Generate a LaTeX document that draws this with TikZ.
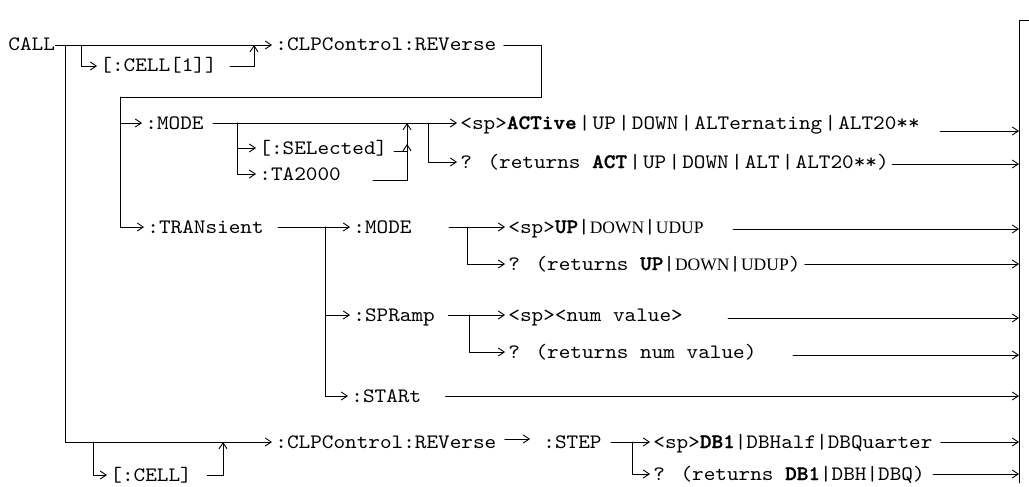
\documentclass[tikz,border=0pt]{standalone}
\usepackage{fontspec}
\setmainfont{Liberation Serif}
\newfontfamily\cmdtt{lmmono10-regular.otf}[FakeStretch=1.08,BoldFont=lmmonolt10-bold.otf,BoldFeatures={FakeBold=1.2}]
\usetikzlibrary{arrows.meta}
\newcommand\cmdfont{\fontsize{20.5}{23}\selectfont\cmdtt}
\newcommand\srf[1]{{\rmfamily\fontsize{17.5}{19}\selectfont #1}}
\newcommand\pp{\kern2.2pt|\kern2.2pt}
\begin{document}
\begin{tikzpicture}[x=1pt,y=-1pt,line cap=round,line join=round,line width=0.9pt,
  >={Straight Barb[length=6pt,width=8pt]},
  lbl/.style={font=\cmdfont,inner xsep=3pt,inner ysep=0pt,text height=12pt,text depth=0pt,anchor=west}]
  \useasboundingbox (0,0) rectangle (1029,487);
  % right-hand collecting bar
  \coordinate (bartop) at (1019,20);
  \coordinate (barbot) at (1019,483);
  \draw (barbot) -- (bartop) -- (1029,20);
  % top row
  \node[lbl,inner xsep=0pt] (call) at (8,45) {CALL};
  \node[lbl] (clpa) at (272,45) {:CLPControl:REVerse};
  \node[lbl] (cella) at (97,66) {[:CELL[1]]};
  \coordinate (ja) at (65,45);
  \coordinate (jb) at (81,45);
  \coordinate (jc) at (254,45);
  \draw[->] (call.east) -- (clpa.west);
  \draw[->] (jb) |- (cella.west);
  \draw[->] ([xshift=10pt]cella.east) -| (jc);
  % return to second level
  \coordinate (je) at (541,97);
  \coordinate (jf) at (120,97);
  \node[lbl] (mode) at (142,123) {:MODE};
  \node[lbl] (tran) at (144,227) {:TRANsient};
  \draw[->] ([xshift=4pt]clpa.east) -| (je) -- (jf) |- (tran.west);
  \draw[->] (jf) |- (mode.west);
  % :MODE branch
  \node[lbl] (act) at (457,123) {<sp>\textbf{ACTive}\pp UP\pp DOWN\pp ALTernating\pp ALT20**};
  \node[lbl] (qact) at (457,162) {? (returns \textbf{ACT}\pp UP\pp DOWN\pp ALT\pp ALT20**)};
  \node[lbl] (sel) at (256,148) {[:SELected]};
  \node[lbl] (ta) at (256,174) {:TA2000};
  \coordinate (jg) at (237,123);
  \coordinate (jh) at (407,123);
  \coordinate (jj) at (428,123);
  \coordinate (selout) at (394,151);
  \coordinate (taout) at (373,180);
  \draw[->] ([xshift=6pt]mode.east) -- (act.west);
  \draw[->] (jg) |- (sel.west);
  \draw[->] (jg) |- (ta.west);
  \draw[->] (selout) -| (jh);
  \draw[->] (taout) -| (407,144);
  \draw[->] (jj) |- (qact.west);
  \coordinate (actout) at (940,131);
  \coordinate (qactout) at (892,164);
  \draw[->] (actout) -- (actout -| bartop);
  \draw[->] (qactout) -- (qactout -| bartop);
  % :TRANsient branch
  \node[lbl] (tmode) at (350,227) {:MODE};
  \node[lbl] (spr) at (350,315) {:SPRamp};
  \node[lbl] (start) at (348,396) {:STARt};
  \coordinate (jk) at (325,227);
  \draw[->] ([xshift=11pt]tran.east) -- (tmode.west);
  \draw[->] (jk) |- (spr.west);
  \draw[->] (jk) |- (start.west);
  \node[lbl] (up) at (505,227) {<sp>\textbf{UP}|\srf{DOWN}|\srf{UDUP}};
  \node[lbl] (qup) at (505,264) {? (returns \textbf{UP}|\srf{DOWN}|\srf{UDUP})};
  \coordinate (jm) at (467,227);
  \draw[->] ([xshift=34pt]tmode.east) -- (up.west);
  \draw[->] (jm) |- (qup.west);
  \node[lbl] (num) at (505,315) {<sp><num value>};
  \node[lbl] (qnum) at (505,352) {? (returns num value)};
  \coordinate (jn) at (469,315);
  \draw[->] ([xshift=10pt]spr.east) -- (num.west);
  \draw[->] (jn) |- (qnum.west);
  \coordinate (upout) at (733,229);
  \coordinate (numout) at (728,318);
  \coordinate (qnumout) at (793,355);
  \draw[->] (upout) -- (upout -| bartop);
  \draw[->] ([xshift=1pt]qup.east) -- (qup.east -| bartop);
  \draw[->] (numout) -- (numout -| bartop);
  \draw[->] (qnumout) -- (qnumout -| bartop);
  \draw[->] ([xshift=21pt]start.east) -- (start.east -| bartop);
  % bottom row
  \node[lbl] (clpb) at (272,442) {:CLPControl:REVerse};
  \node[lbl] (cellb) at (107,475) {[:CELL]};
  \coordinate (jp) at (93,442);
  \coordinate (jq) at (223,442);
  \draw[->] (ja) |- (clpb.west);
  \draw[->] (jp) |- (cellb.west);
  \draw[->] ([xshift=12pt]cellb.east) -| (jq);
  \node[lbl] (step) at (540,442) {:STEP};
  \node[lbl] (db) at (650,442) {<sp>\textbf{DB1}|DBHalf|DBQuarter};
  \node[lbl] (qdb) at (650,474) {? (returns \textbf{DB1}|DBH|DBQ)};
  \coordinate (jr) at (632,442);
  \draw[->] ([xshift=5pt,yshift=3pt]clpb.east) -- ([xshift=-10pt,yshift=3pt]step.west);
  \draw[->] ([xshift=6pt]step.east) -- (db.west);
  \draw[->] (jr) |- (qdb.west);
  \draw[->] ([xshift=5pt]db.east) -- (db.east -| bartop);
  \draw[->] ([xshift=5pt]qdb.east) -- (qdb.east -| bartop);
\end{tikzpicture}
\end{document}
